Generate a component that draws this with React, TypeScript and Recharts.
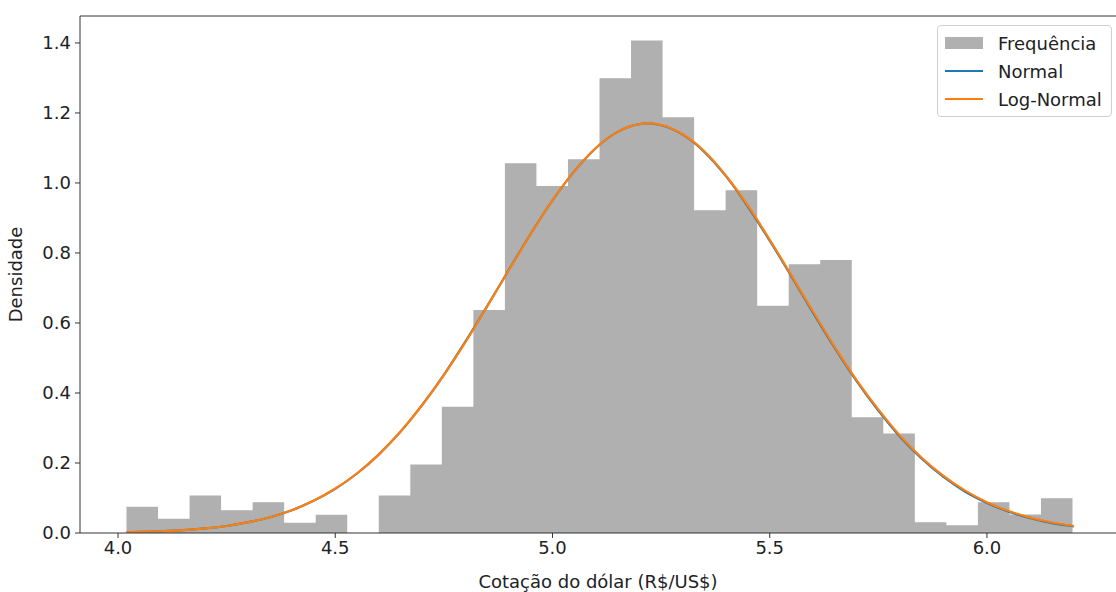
import { ComposedChart, Area, Line, XAxis, YAxis, ReferenceLine } from "recharts";

// histogram: 30 bins starting at 4.0195, width ~0.0726
const BIN_START = 4.0195;
const BIN_WIDTH = 0.07258;
const FREQ = [
  0.075, 0.041, 0.107, 0.065, 0.088, 0.029, 0.052, 0.0, 0.107, 0.196,
  0.361, 0.637, 1.056, 0.991, 1.068, 1.299, 1.407, 1.188, 0.922, 0.979,
  0.649, 0.768, 0.78, 0.331, 0.284, 0.031, 0.022, 0.088, 0.053, 0.099,
];

// fitted density curves
const CURVE_X = [
  4.02, 4.05, 4.1, 4.15, 4.2, 4.25, 4.3, 4.35, 4.4, 4.45, 4.5, 4.55, 4.6,
  4.65, 4.7, 4.75, 4.8, 4.85, 4.9, 4.95, 5.0, 5.05, 5.1, 5.15, 5.2, 5.22,
  5.25, 5.3, 5.35, 5.4, 5.45, 5.5, 5.55, 5.6, 5.65, 5.7, 5.75, 5.8, 5.85,
  5.9, 5.95, 6.0, 6.05, 6.1, 6.15, 6.2,
];
const NORMAL = [
  0.002, 0.003, 0.005, 0.008, 0.013, 0.02, 0.031, 0.045, 0.065, 0.092,
  0.126, 0.17, 0.224, 0.289, 0.366, 0.452, 0.548, 0.649, 0.753, 0.855,
  0.95, 1.033, 1.1, 1.146, 1.168, 1.17, 1.165, 1.138, 1.088, 1.018, 0.932,
  0.835, 0.733, 0.629, 0.528, 0.434, 0.35, 0.275, 0.212, 0.16, 0.118,
  0.086, 0.061, 0.042, 0.028, 0.019,
];
const LOGNORMAL = [
  0.002, 0.003, 0.005, 0.008, 0.013, 0.02, 0.031, 0.045, 0.065, 0.092,
  0.127, 0.17, 0.224, 0.289, 0.365, 0.451, 0.546, 0.648, 0.752, 0.854,
  0.95, 1.033, 1.1, 1.146, 1.168, 1.17, 1.166, 1.139, 1.09, 1.02, 0.935,
  0.838, 0.736, 0.632, 0.531, 0.437, 0.353, 0.278, 0.215, 0.163, 0.121,
  0.088, 0.063, 0.044, 0.03, 0.02,
];

const X_TICKS = [4.0, 4.5, 5.0, 5.5, 6.0];
const Y_TICKS = [0, 0.2, 0.4, 0.6, 0.8, 1.0, 1.2, 1.4];

const X_DOMAIN: [number, number] = [3.9125, 6.297];
const Y_DOMAIN: [number, number] = [0, 1.477];

const FONT = "'DejaVu Sans', sans-serif";
const AXIS = "#333";
const FS = 18;

const histData = [
  ...FREQ.map((f, i) => ({ x: BIN_START + i * BIN_WIDTH, freq: f })),
  { x: BIN_START + FREQ.length * BIN_WIDTH, freq: 0 },
];
const curveData = CURVE_X.map((x, i) => ({ x, normal: NORMAL[i], lognormal: LOGNORMAL[i] }));

const tickStyle = { fill: "#222", fontSize: FS, fontFamily: FONT };

export default function App() {
  return (
    <div style={{ position: "absolute", left: 0, top: 0, width: 1116, height: 592, background: "#fff" }}>
      <ComposedChart width={1116} height={592} margin={{ top: 16, right: 0, bottom: 0, left: 0 }}>
        <XAxis
          type="number"
          dataKey="x"
          domain={X_DOMAIN}
          ticks={X_TICKS}
          tickFormatter={(v: number) => v.toFixed(1)}
          allowDataOverflow
          height={59}
          stroke={AXIS}
          tick={tickStyle}
          tickSize={5}
          tickMargin={3}
          label={{ value: "Cotação do dólar (R$/US$)", position: "insideBottom", offset: 4, fill: "#222", fontSize: FS, fontFamily: FONT }}
        />
        <YAxis
          type="number"
          domain={Y_DOMAIN}
          ticks={Y_TICKS}
          tickFormatter={(v: number) => v.toFixed(1)}
          allowDataOverflow
          width={80}
          stroke={AXIS}
          tick={tickStyle}
          tickSize={5}
          tickMargin={4}
          label={{ value: "Densidade", angle: -90, position: "insideLeft", offset: 16, fill: "#222", fontSize: FS, fontFamily: FONT, style: { textAnchor: "middle" } }}
        />
        <Area
          data={histData}
          dataKey="freq"
          type="stepAfter"
          stroke="none"
          fill="#b0b0b0"
          fillOpacity={1}
          isAnimationActive={false}
        />
        <Line data={curveData} dataKey="normal" type="monotone" stroke="#1f77b4" strokeWidth={2.2} dot={false} isAnimationActive={false} />
        <Line data={curveData} dataKey="lognormal" type="monotone" stroke="#ff7f0e" strokeWidth={2.2} dot={false} isAnimationActive={false} />
        {/* top spine */}
        <ReferenceLine y={Y_DOMAIN[1]} stroke={AXIS} strokeWidth={1} />
      </ComposedChart>
      <div
        style={{
          position: "absolute",
          left: 937,
          top: 25,
          width: 175,
          height: 92,
          boxSizing: "border-box",
          border: "1px solid #d0d0d0",
          borderRadius: 4,
          background: "rgba(255,255,255,0.8)",
          fontFamily: FONT,
          fontSize: FS,
          color: "#222",
        }}
      >
        {[
          { label: "Frequência", kind: "patch", color: "#b0b0b0" },
          { label: "Normal", kind: "line", color: "#1f77b4" },
          { label: "Log-Normal", kind: "line", color: "#ff7f0e" },
        ].map((e, i) => (
          <div key={e.label} style={{ position: "absolute", left: 7, top: 4 + i * 28, height: 26, display: "flex", alignItems: "center" }}>
            <div style={{ width: 38, height: e.kind === "patch" ? 12 : 2.5, background: e.color }} />
            <span style={{ marginLeft: 15, whiteSpace: "nowrap" }}>{e.label}</span>
          </div>
        ))}
      </div>
    </div>
  );
}
